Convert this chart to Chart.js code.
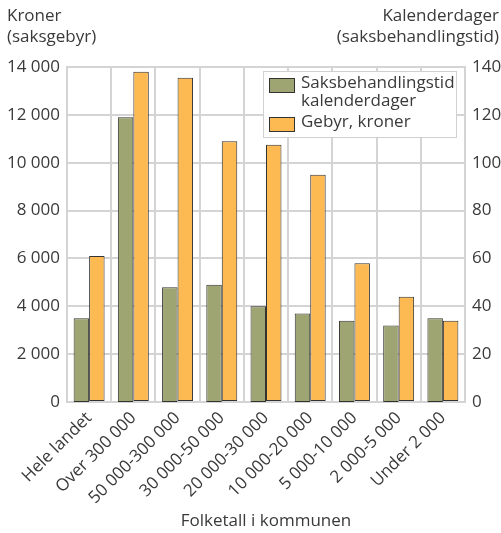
<!DOCTYPE html>
<html>
<head>
<meta charset="utf-8">
<script src="https://cdn.jsdelivr.net/npm/chart.js@4"></script>
<style>
  body { margin: 0; background: #fff; }
  #wrap { position: relative; width: 501px; height: 533px; font-family: "Open Sans", sans-serif; color: #3a3a3a; }
  .ttl { position: absolute; font-size: 17px; line-height: 21px; }
  #legend { position: absolute; left: 263px; top: 71px; width: 192px; height: 65px; background: #fff; border: 1px solid #d0d0d0; font-size: 17px; line-height: 18px; }
  .item { position: absolute; left: 5px; }
  .sw { position: absolute; left: 0; width: 24px; height: 13px; border: 1px solid #333; }
  .txt { position: absolute; left: 32px; white-space: nowrap; }
</style>
</head>
<body>
<div id="wrap">
  <canvas id="myChart" width="501" height="533"></canvas>
  <div class="ttl" style="left:7px; top:4px;">Kroner<br>(saksgebyr)</div>
  <div class="ttl" style="right:2px; top:4px; text-align:right;">Kalenderdager<br>(saksbehandlingstid)</div>
  <div id="legend">
    <div class="item" style="top:6px;"><div class="sw" style="background:#9fa572;"></div><div class="txt" style="top:-5px;">Saksbehandlingstid<br>kalenderdager</div></div>
    <div class="item" style="top:45px;"><div class="sw" style="background:#fdba52;"></div><div class="txt" style="top:-5px;">Gebyr, kroner</div></div>
  </div>
</div>
<script>
var categories = ["Hele landet", "Over 300 000", "50 000-300 000", "30 000-50 000", "20 000-30 000", "10 000-20 000", "5 000-10 000", "2 000-5 000", "Under 2 000"];
var dager = [35, 119, 48, 49, 40, 37, 34, 32, 35];
var gebyr = [6100, 13800, 13550, 10900, 10750, 9500, 5800, 4400, 3400];

function fmt(v) {
  return String(v).replace(/\B(?=(\d{3})+(?!\d))/g, " ");
}

var gridColor = "#d4d4d4";
var txtColor = "#3a3a3a";

Chart.defaults.font.family = "'Open Sans', sans-serif";
Chart.defaults.font.size = 17;
Chart.defaults.color = txtColor;

new Chart(document.getElementById("myChart"), {
  type: "bar",
  data: {
    labels: categories,
    datasets: [
      {
        label: "Saksbehandlingstid kalenderdager",
        data: dager,
        yAxisID: "y1",
        backgroundColor: "#9fa572",
        borderColor: "#333",
        borderWidth: 1,
        borderSkipped: false,
        categoryPercentage: 0.7,
        barPercentage: 1.0
      },
      {
        label: "Gebyr, kroner",
        data: gebyr,
        yAxisID: "y",
        backgroundColor: "#fdba52",
        borderColor: "#333",
        borderWidth: 1,
        borderSkipped: false,
        categoryPercentage: 0.7,
        barPercentage: 1.0
      }
    ]
  },
  options: {
    responsive: false,
    animation: false,
    layout: { padding: { top: 67, left: 0, right: 0, bottom: 0 } },
    plugins: {
      legend: { display: false },
      tooltip: { enabled: false }
    },
    scales: {
      x: {
        grid: { color: gridColor, lineWidth: 2, drawTicks: false, offset: true },
        border: { color: gridColor, width: 2 },
        ticks: { minRotation: 45, maxRotation: 45, padding: 6, autoSkip: false },
        title: { display: true, text: "Folketall i kommunen", padding: { top: 4, bottom: 2 } },
        afterFit: function (s) { s.height = 131; }
      },
      y: {
        position: "left",
        min: 0,
        max: 14000,
        ticks: { stepSize: 2000, padding: 7, callback: function (v) { return fmt(v); } },
        grid: { color: gridColor, lineWidth: 2, drawTicks: false },
        border: { color: gridColor, width: 2 },
        afterFit: function (s) { s.width = 67; }
      },
      y1: {
        position: "right",
        min: 0,
        max: 140,
        ticks: { stepSize: 20, padding: 7 },
        grid: { display: false, drawTicks: false },
        border: { color: gridColor, width: 2 },
        afterFit: function (s) { s.width = 36; }
      }
    }
  }
});
</script>
</body>
</html>
